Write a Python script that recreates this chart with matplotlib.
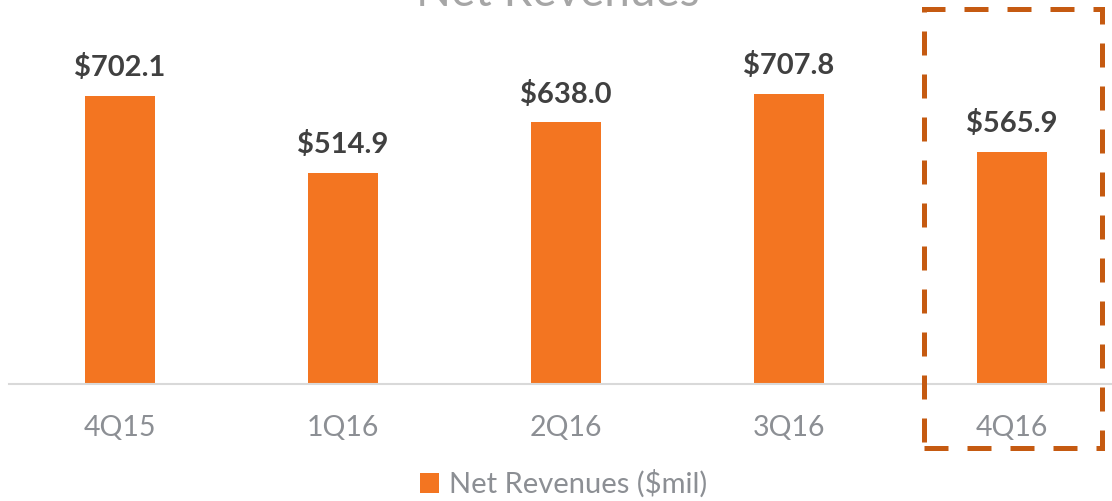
import matplotlib.pyplot as plt
from matplotlib.patches import Rectangle

quarters = ["4Q15", "1Q16", "2Q16", "3Q16", "4Q16"]
revenues = [702.1, 514.9, 638.0, 707.8, 565.9]
value_labels = ["$702.1", "$514.9", "$638.0", "$707.8", "$565.9"]

bar_color = "#F37521"
box_color = "#C55A11"
text_dark = "#404040"
text_gray = "#8C8F94"

plt.rcParams["font.family"] = ["Lato", "DejaVu Sans"]

W, H = 1112, 501
fig = plt.figure(figsize=(W / 100, H / 100), dpi=100)
# axes in pixel terms: baseline at y=384, 223 px per category
ax = fig.add_axes([8.5 / W, 117 / H, 1115 / W, 328 / H])

x = range(len(quarters))
ax.bar(x, revenues, width=0.314, color=bar_color, label="Net Revenues ($mil)")
ax.set_xlim(-0.5, 4.5)
ax.set_ylim(0, 800)

for xi, v, lab in zip(x, revenues, value_labels):
    ax.text(xi, v + 36, lab, ha="center", va="bottom", fontsize=21,
            fontweight="bold", color=text_dark)

ax.set_xticks(list(x))
ax.set_xticklabels(quarters, fontsize=20.5, color=text_gray)
ax.tick_params(axis="x", length=0, pad=22)
ax.set_yticks([])
for s in ["top", "right", "left"]:
    ax.spines[s].set_visible(False)
ax.spines["bottom"].set_color("#D9D9D9")
ax.spines["bottom"].set_linewidth(1.5)

# title, partly cut off at the top
fig.text(558 / W, 1 - 6 / H, "Net Revenues", ha="center", va="baseline",
         fontsize=33, color="#A6A6A6")

# dashed highlight box around the last quarter
box = Rectangle((924 / W, 1 - 448 / H), (1102 - 924) / W, (448 - 9) / H,
                transform=fig.transFigure, fill=False, edgecolor=box_color,
                linewidth=3.6, linestyle=(0, (4.8, 3.8)), clip_on=False)
fig.patches.append(box)

fig.legend(loc="center", bbox_to_anchor=(564 / W, 17 / H), frameon=False,
           fontsize=21, handlelength=0.65, handleheight=0.65,
           handletextpad=0.35, labelcolor=text_gray)

fig.savefig("out.png", dpi=100)
